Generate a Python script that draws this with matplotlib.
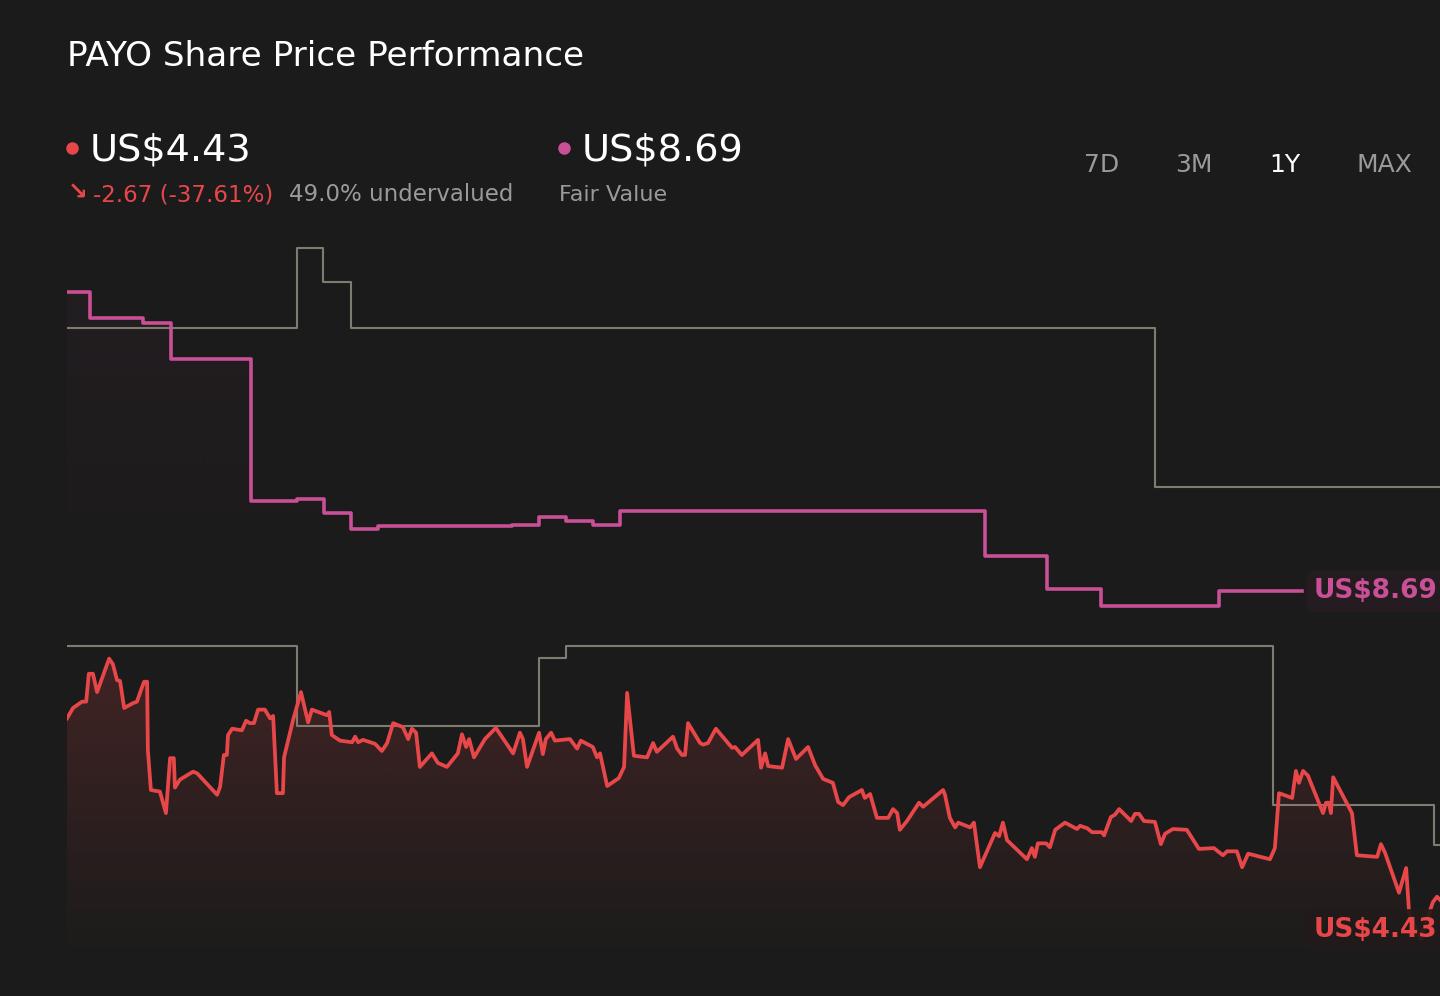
import numpy as np
import matplotlib
matplotlib.use("Agg")
import matplotlib.pyplot as plt
from matplotlib.colors import to_rgb

# PAYO, last 12 months, day 0 = one year ago
price_days = [0.0, 1.6, 4.0, 5.1, 5.8, 6.9, 8.0, 11.2, 12.2, 13.3,
              14.1, 15.2, 17.5, 18.6, 19.7, 20.5, 21.3, 21.5, 22.3, 24.7,
              26.3, 27.4, 28.4, 28.7, 30.0, 33.5, 34.6, 39.9, 40.7, 41.7,
              42.5, 42.8, 43.9, 46.5, 47.6, 48.6, 49.7, 50.8, 52.6, 54.0,
              54.8, 55.8, 57.4, 57.7, 60.1, 62.2, 64.1, 65.1, 69.1, 69.7,
              70.4, 72.6, 75.8, 76.6, 77.4, 78.7, 81.9, 83.7, 85.1, 86.7,
              89.3, 90.7, 91.7, 92.8, 93.8, 97.0, 98.6, 101.0, 103.9, 105.0,
              106.1, 106.9, 108.2, 111.1, 114.0, 118.6, 120.4, 121.2, 122.3, 125.5,
              126.5, 127.3, 128.7, 129.7, 133.7, 135.6, 136.6, 139.8, 140.9, 141.7,
              143.6, 146.7, 148.1, 148.9, 150.7, 154.2, 155.8, 156.8, 161.1, 162.2,
              163.5, 164.3, 165.1, 168.3, 169.1, 170.4, 172.5, 176.8, 177.6, 179.4,
              183.7, 184.5, 185.6, 186.4, 190.1, 191.7, 193.8, 197.0, 198.9, 201.0,
              203.6, 205.0, 206.3, 207.9, 211.3, 212.1, 213.5, 215.3, 218.3, 219.6,
              220.7, 221.4, 223.3, 226.5, 227.6, 232.9, 233.4, 234.7, 236.1, 236.9,
              240.1, 241.1, 242.7, 246.7, 247.8, 248.8, 249.9, 255.2, 256.5, 257.3,
              258.1, 260.3, 261.3, 262.7, 265.3, 268.5, 269.3, 271.2, 272.5, 275.1,
              275.7, 277.5, 278.6, 279.7, 282.9, 283.9, 285.0, 286.3, 289.2, 290.8,
              291.9, 294.0, 297.7, 300.9, 304.9, 307.3, 308.4, 311.0, 312.4, 314.0,
              319.8, 321.1, 322.2, 325.7, 326.7, 327.5, 328.6, 329.9, 333.9, 334.7,
              335.5, 336.0, 336.6, 341.6, 342.9, 348.3, 349.3, 350.4, 354.1, 356.0,
              356.8, 359.8, 363.1, 364.2, 365.0]
prices = [7.09, 7.22, 7.30, 7.30, 7.65, 7.65, 7.42, 7.84, 7.77, 7.57,
          7.56, 7.22, 7.28, 7.30, 7.45, 7.55, 7.55, 6.69, 6.19, 6.17,
          5.90, 6.59, 6.59, 6.22, 6.32, 6.42, 6.40, 6.13, 6.23, 6.63,
          6.63, 6.88, 6.96, 6.94, 7.06, 7.03, 7.03, 7.20, 7.20, 7.09,
          7.12, 6.15, 6.15, 6.60, 7.07, 7.42, 7.04, 7.20, 7.13, 7.17,
          6.88, 6.81, 6.79, 6.86, 6.79, 6.82, 6.77, 6.68, 6.78, 7.03,
          6.98, 6.83, 6.96, 6.91, 6.48, 6.65, 6.53, 6.48, 6.65, 6.89,
          6.73, 6.83, 6.60, 6.83, 6.97, 6.65, 6.91, 6.83, 6.48, 6.91,
          6.64, 6.83, 6.91, 6.81, 6.83, 6.71, 6.81, 6.73, 6.60, 6.65,
          6.24, 6.34, 6.48, 7.41, 6.62, 6.60, 6.78, 6.67, 6.86, 6.71,
          6.63, 6.63, 7.03, 6.78, 6.76, 6.78, 6.96, 6.72, 6.73, 6.63,
          6.82, 6.47, 6.65, 6.49, 6.47, 6.83, 6.58, 6.73, 6.50, 6.33,
          6.28, 6.04, 6.00, 6.10, 6.19, 6.09, 6.14, 5.84, 5.84, 5.95,
          5.90, 5.69, 5.80, 6.03, 5.98, 6.19, 6.13, 5.84, 5.72, 5.78,
          5.72, 5.78, 5.22, 5.65, 5.61, 5.78, 5.56, 5.32, 5.46, 5.35,
          5.52, 5.52, 5.47, 5.69, 5.78, 5.70, 5.74, 5.71, 5.66, 5.66,
          5.62, 5.85, 5.88, 5.95, 5.80, 5.89, 5.89, 5.80, 5.79, 5.51,
          5.64, 5.70, 5.69, 5.45, 5.46, 5.37, 5.42, 5.42, 5.22, 5.39,
          5.32, 5.46, 6.15, 6.09, 6.43, 6.28, 6.43, 6.37, 5.90, 6.03,
          6.03, 5.90, 6.35, 5.90, 5.37, 5.35, 5.51, 5.40, 4.90, 5.21,
          4.64, 4.32, 4.78, 4.85, 4.81]

# fair value estimate (weekly steps)
fv_days = [0, 6.1, 20.2, 27.6, 48.9, 61.1, 68.3, 75.5, 82.7, 118.3,
           125.5, 132.7, 139.8, 147.0, 244.0, 260.5, 274.9, 306.3, 328.3]
fv_vals = [12.45, 12.12, 12.06, 11.61, 9.82, 9.85, 9.67, 9.47, 9.51, 9.52,
           9.62, 9.57, 9.52, 9.70, 9.13, 8.72, 8.50, 8.69, 8.69]

# analyst targets, high and low
hi_days = [0, 61.1, 68.1, 75.5, 289.2, 365]
hi_vals = [12.0, 13.0, 12.57, 12.0, 10.0, 10.0]
lo_days = [0, 61.1, 125.5, 132.7, 320.6, 363.4, 365]
lo_vals = [8.0, 7.0, 7.85, 8.0, 6.0, 5.5, 5.5]

last_price = 4.43
fair_value = 8.69

BG = "#1b1b1b"
RED = "#e8474a"
PINK = "#c94f96"
GREY = "#7f7b70"
TXT_GREY = "#9a9a9a"

W, H = 1440, 996
fig = plt.figure(figsize=(W / 100, H / 100), dpi=100, facecolor=BG)


def ftext(x, y, s, **kw):
    # place text with pixel coords measured from top-left
    return fig.text(x / W, 1 - y / H, s, **kw)


ax = fig.add_axes([67 / W, (H - 950) / H, (W - 67) / W, 720 / H])
ax.set_facecolor(BG)
ymin, ymax = 4.18, 13.225
xmin, xmax = 0, 365


def gradient_fill(xs, ys, color, a_top, a_bot, v_top, v_bot, step=None):
    poly = ax.fill_between(xs, ys, ymin, step=step, color="none", lw=0)
    rgba = np.zeros((256, 1, 4))
    rgba[..., :3] = to_rgb(color)
    rgba[..., 3] = np.linspace(a_top, a_bot, 256)[:, None]
    im = ax.imshow(rgba, aspect="auto", extent=[xmin, xmax, v_bot, v_top],
                   origin="upper", zorder=1, interpolation="bilinear")
    im.set_clip_path(poly.get_paths()[0], transform=ax.transData)


gradient_fill(fv_days, fv_vals, PINK, 0.05, 0.0, 12.5, 8.8, step="post")
gradient_fill(price_days, prices, RED, 0.2, 0.01, 8.0, ymin)

ax.step(hi_days, hi_vals, where="post", color=GREY, lw=1.5, zorder=2)
ax.step(lo_days, lo_vals, where="post", color=GREY, lw=1.5, zorder=2)
ax.step(fv_days, fv_vals, where="post", color=PINK, lw=2.6, zorder=3)
ax.plot(price_days, prices, color=RED, lw=2.7, zorder=4)

ax.set_xlim(xmin, xmax)
ax.set_ylim(ymin, ymax)
ax.axis("off")

# end labels
lab_kw = dict(fontsize=19, fontweight="bold", va="center", ha="left", zorder=6)
ax.text(fv_days[-1] + 3.2, fair_value, "US$8.69", color=PINK,
        bbox=dict(boxstyle="round,pad=0.3", fc="#241c20", ec="none"), **lab_kw)
ax.text(fv_days[-1] + 3.2, last_price, "US$4.43", color=RED,
        bbox=dict(boxstyle="round,pad=0.3", fc="#221a1a", ec="none", alpha=0.92), **lab_kw)

# header
ftext(67, 66, "PAYO Share Price Performance", color="white", fontsize=24.7, va="baseline")

fig.lines.append(plt.Line2D([72 / W], [1 - 148 / H], marker="o", ms=8, color=RED,
                            transform=fig.transFigure))
ftext(90, 161, "US$4.43", color="white", fontsize=27.5, va="baseline")
ftext(68, 200, "\u2198", color=RED, fontsize=17, fontweight="bold", va="baseline")
ftext(93, 201, "-2.67 (-37.61%)", color=RED, fontsize=16.5, va="baseline")
ftext(289, 201, "49.0% undervalued", color=TXT_GREY, fontsize=16.5, va="baseline")

fig.lines.append(plt.Line2D([564 / W], [1 - 148 / H], marker="o", ms=8, color=PINK,
                            transform=fig.transFigure))
ftext(582, 161, "US$8.69", color="white", fontsize=27.5, va="baseline")
ftext(559, 201, "Fair Value", color=TXT_GREY, fontsize=16, va="baseline")

for cx, s in [(1102, "7D"), (1194, "3M"), (1285, "1Y"), (1384, "MAX")]:
    ftext(cx, 172, s, color="white" if s == "1Y" else TXT_GREY, fontsize=18,
          ha="center", va="baseline")

fig.savefig("out.png", dpi=100, facecolor=BG)
